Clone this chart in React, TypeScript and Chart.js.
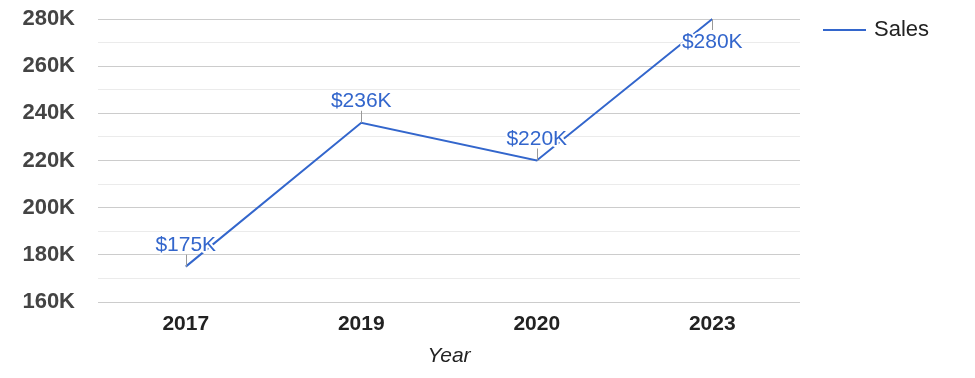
import React, { useEffect, useRef } from 'react';
import { Chart, registerables } from 'chart.js';

Chart.register(...registerables);

const categories = ['2017', '2019', '2020', '2023'];
const salesValues = [175000, 236000, 220000, 280000];
const salesLabels = ['$175K', '$236K', '$220K', '$280K'];
const seriesName = 'Sales';
const xAxisTitle = 'Year';
const yMin = 160000;
const yMax = 280000;
const yMajorStep = 20000;
const yMinorStep = 10000;

const FONT = '"Liberation Sans", Arial, sans-serif';
const LINE_COLOR = '#3366cc';

const annotationPlugin = {
  id: 'pointAnnotations',
  afterDatasetsDraw(chart: any) {
    const ctx = chart.ctx;
    const meta = chart.getDatasetMeta(0);
    const area = chart.chartArea;
    meta.data.forEach((pt: any, i: number) => {
      const x = pt.x;
      const y = pt.y;
      const label = salesLabels[i];
      const below = y - 34 < area.top;
      const sx = Math.round(x) + 0.5;
      ctx.save();
      ctx.strokeStyle = '#999999';
      ctx.lineWidth = 1;
      ctx.beginPath();
      if (below) {
        ctx.moveTo(sx, y);
        ctx.lineTo(sx, y + 11);
      } else {
        ctx.moveTo(sx, y);
        ctx.lineTo(sx, y - 12);
      }
      ctx.stroke();
      ctx.font = `21px ${FONT}`;
      ctx.textAlign = 'center';
      ctx.textBaseline = 'alphabetic';
      const ty = below ? y + 29 : y - 16;
      ctx.lineWidth = 4;
      ctx.lineJoin = 'round';
      ctx.strokeStyle = '#ffffff';
      ctx.strokeText(label, x, ty);
      ctx.fillStyle = LINE_COLOR;
      ctx.fillText(label, x, ty);
      ctx.restore();
    });
  },
};

const legendPlugin = {
  id: 'customLegend',
  afterDraw(chart: any) {
    const ctx = chart.ctx;
    const ds = chart.data.datasets[0];
    const lx = chart.chartArea.right + 23;
    const ly = 30;
    ctx.save();
    ctx.strokeStyle = ds.borderColor;
    ctx.lineWidth = 2;
    ctx.beginPath();
    ctx.moveTo(lx, ly);
    ctx.lineTo(lx + 43, ly);
    ctx.stroke();
    ctx.font = `22px ${FONT}`;
    ctx.fillStyle = '#222222';
    ctx.textAlign = 'left';
    ctx.textBaseline = 'middle';
    ctx.fillText(ds.label, lx + 51, ly);
    ctx.restore();
  },
};

export default function App() {
  const canvasRef = useRef<HTMLCanvasElement | null>(null);

  useEffect(() => {
    if (!canvasRef.current) return;
    const chart = new Chart(canvasRef.current, {
      type: 'line',
      data: {
        labels: categories,
        datasets: [
          {
            label: seriesName,
            data: salesValues,
            borderColor: LINE_COLOR,
            backgroundColor: LINE_COLOR,
            borderWidth: 2,
            pointRadius: 0,
            pointHoverRadius: 0,
            tension: 0,
            clip: 4,
          },
        ],
      },
      options: {
        responsive: false,
        animation: false,
        layout: { padding: { top: 19, right: 175, bottom: 0, left: 0 } },
        plugins: {
          legend: { display: false },
          tooltip: { enabled: false },
        },
        scales: {
          x: {
            offset: true,
            grid: { display: false, drawTicks: false },
            border: { display: false },
            ticks: {
              color: '#222222',
              font: { family: FONT, size: 21, weight: 'bold' },
              padding: 10,
              maxRotation: 0,
            },
            title: {
              display: true,
              text: xAxisTitle,
              color: '#222222',
              font: { family: FONT, size: 21, style: 'italic' },
              padding: { top: 4, bottom: 9 },
            },
            afterFit(scale: any) {
              scale.height = 76;
            },
          },
          y: {
            min: yMin,
            max: yMax,
            border: { display: false },
            grid: {
              drawTicks: false,
              color: (c: any) =>
                c.tick && c.tick.value % yMajorStep === 0 ? '#cccccc' : '#ebebeb',
              lineWidth: 1,
            },
            ticks: {
              stepSize: yMinorStep,
              autoSkip: false,
              color: '#444444',
              font: { family: FONT, size: 22, weight: 'bold' },
              padding: 23,
              callback: (v: any) => (Number(v) % yMajorStep === 0 ? `${Number(v) / 1000}K` : ''),
            },
            afterFit(scale: any) {
              scale.width = 98;
              scale.paddingTop = 0;
              scale.paddingBottom = 0;
            },
          },
        },
      },
      plugins: [annotationPlugin, legendPlugin],
    });
    return () => chart.destroy();
  }, []);

  return (
    <div style={{ position: 'absolute', left: 0, top: 0, width: 975, height: 378, background: '#ffffff' }}>
      <canvas ref={canvasRef} width={975} height={378} />
    </div>
  );
}
